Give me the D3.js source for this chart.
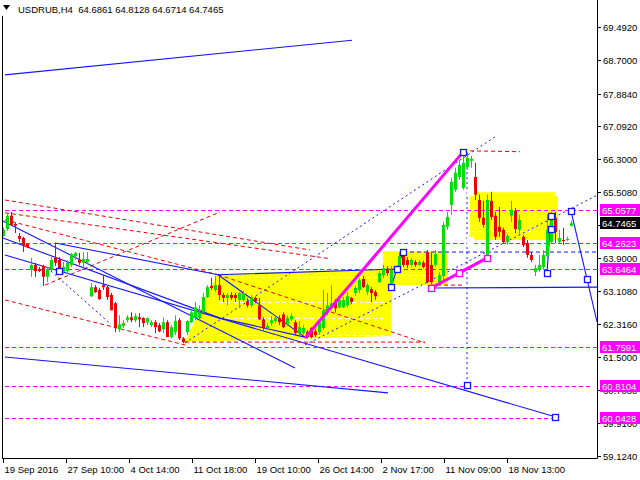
<!DOCTYPE html>
<html><head><meta charset="utf-8">
<script src="https://cdn.jsdelivr.net/npm/d3@7"></script>
<style>body{margin:0;background:#fff;} svg{display:block;font-family:"Liberation Sans",Arial,sans-serif;}</style>
</head><body><svg id="c" width="640" height="480"></svg>
<script>
const title = "USDRUB,H4  64.6861 64.8128 64.6714 64.7465";
const opens  = [64.44,64.61,64.93,64.73,64.44,64.39,64.25,63.62,63.74,63.64,63.71,63.45,63.64,63.91,63.86,63.57,63.59,63.74,63.95,63.86,63.79,63.81,62.98,63.20,63.13,63.25,63.20,63.01,62.81,62.18,62.26,62.40,62.47,62.40,62.47,62.45,62.35,62.28,62.35,62.28,62.18,62.35,61.99,62.11,62.40,61.96,62.11,62.35,62.45,62.45,62.59,62.96,63.23,63.13,63.25,63.01,62.94,63.01,63.01,62.89,62.89,62.86,62.76,62.94,62.76,62.42,62.21,62.33,62.38,62.45,62.54,62.30,62.42,62.35,62.09,62.09,62.11,62.21,62.13,62.11,62.21,62.59,62.69,62.84,62.71,62.71,62.76,62.94,63.06,63.13,63.40,63.08,63.15,63.08,63.32,63.49,63.62,63.20,63.57,63.66,63.98,63.86,63.74,63.81,63.74,63.79,64.05,63.74,63.74,63.32,63.47,64.66,65.19,65.56,65.87,65.60,66.11,66.26,65.87,65.31,64.88,63.98,65.29,64.93,64.66,64.59,64.29,64.93,65.05,64.59,64.42,64.27,63.98,63.57,63.62,63.69,63.95,64.29,64.88,64.29,64.34,64.34,64.6861];
const highs  = [64.64,64.97,65.02,64.76,64.51,64.42,64.27,63.91,63.79,63.69,63.74,63.69,63.93,64.27,63.93,63.81,63.86,64.03,64.05,64.03,64.05,64.05,63.30,63.25,63.18,63.49,63.23,63.06,62.84,62.52,62.40,62.52,62.59,62.57,62.57,62.47,62.47,62.40,62.40,62.33,62.47,62.40,62.28,62.52,62.45,61.99,62.40,62.64,62.84,62.76,63.06,63.25,63.42,63.47,63.47,63.06,63.06,63.08,63.06,63.08,63.11,62.94,63.01,62.98,62.94,62.47,62.33,62.50,62.52,62.52,62.59,62.52,62.57,62.40,62.38,62.28,62.16,62.23,62.18,62.40,63.13,63.06,63.25,62.91,62.98,62.96,63.08,62.96,63.23,63.42,63.47,63.30,63.20,63.13,63.59,63.74,63.71,63.71,63.71,64.05,64.10,63.93,63.91,63.86,63.86,63.84,64.10,64.03,64.10,63.57,64.78,65.02,65.85,66.09,66.28,66.48,66.45,66.38,66.21,65.44,65.29,65.44,65.51,65.02,65.14,64.64,64.49,65.29,65.12,64.95,64.46,64.34,64.05,63.74,63.98,64.10,64.95,65.02,65.02,64.59,64.64,64.42,64.8128];
const lows   = [64.42,64.56,64.69,64.51,64.29,64.05,64.15,63.45,63.45,63.57,63.23,63.32,63.59,63.71,63.57,63.52,63.52,63.69,63.86,63.74,63.62,63.76,62.96,63.06,62.89,63.13,62.89,62.64,62.11,62.11,62.21,62.35,62.35,62.35,62.23,62.23,62.28,62.23,62.09,62.11,62.09,61.99,61.96,62.04,61.92,61.84,62.04,62.33,62.40,62.40,62.57,62.94,63.13,63.08,62.89,62.84,62.76,62.89,62.84,62.69,62.84,62.71,62.71,62.81,62.40,62.16,62.16,62.26,62.33,62.28,62.21,62.26,62.38,62.04,62.04,62.04,61.96,61.96,61.99,62.04,62.16,62.52,62.66,62.59,62.69,62.69,62.71,62.79,62.98,63.06,63.18,63.01,62.84,62.89,63.30,63.42,63.47,63.18,63.54,63.62,63.69,63.66,63.69,63.69,63.71,63.66,63.30,63.28,63.69,63.28,63.37,64.59,64.95,65.51,65.80,65.56,66.04,66.09,65.31,64.78,64.64,63.93,64.83,64.34,64.42,64.27,64.22,64.78,64.51,64.46,64.17,63.91,63.81,63.47,63.57,63.62,63.91,64.27,64.27,64.27,64.22,64.32,64.6714];
const closes = [64.59,64.93,64.71,64.69,64.37,64.20,64.17,63.74,63.59,63.59,63.45,63.64,63.86,63.79,63.66,63.69,63.79,64.00,64.03,63.79,63.88,63.88,63.20,63.08,62.91,63.20,62.96,62.64,62.21,62.30,62.33,62.47,62.40,62.50,62.42,62.33,62.45,62.35,62.23,62.13,62.35,61.99,62.23,62.38,61.96,61.87,62.38,62.59,62.71,62.59,62.96,63.20,63.18,63.25,63.01,62.94,63.01,62.94,62.94,63.06,63.06,62.76,62.94,62.86,62.42,62.21,62.26,62.40,62.45,62.35,62.23,62.45,62.50,62.09,62.23,62.21,61.99,61.99,62.04,62.35,62.64,62.76,62.81,62.69,62.89,62.89,62.98,62.84,63.18,63.37,63.20,63.25,63.06,62.98,63.54,63.66,63.54,63.62,63.66,63.95,63.74,63.74,63.86,63.74,63.81,63.69,63.32,63.32,64.00,63.49,64.71,64.90,65.75,65.97,66.16,66.21,66.33,66.31,65.44,64.88,64.71,65.31,64.90,64.42,64.54,64.29,64.44,65.07,64.61,64.83,64.22,63.98,63.86,63.66,63.74,63.98,64.59,64.95,64.54,64.39,64.32,64.37,64.7465];

const priceTicks = [69.4920,68.7000,67.8840,67.0920,66.3000,65.5080,64.7160,63.9000,63.1080,62.3160,61.5000,60.7080,59.9160,59.1240];
const timeLabels = ["19 Sep 2016","27 Sep 10:00","4 Oct 14:00","11 Oct 18:00","19 Oct 10:00","26 Oct 14:00","2 Nov 17:00","11 Nov 09:00","18 Nov 13:00"];
const timeLabelBars = [0,15.75,31.5,47.25,63,78.75,94.5,110.25,126];

const levelValues = [65.0577,64.2623,63.6464,61.7591,60.8104,60.0428];
const levelFrom   = [0.5,0.5,0.5,0.5,0.5,0.5];
const levelTo     = [148.5,148.5,148.5,148.5,146.75,138];

const yellowZones = [
  [[45.5,61.87],[53.5,63.52],[97.5,63.64],[97,62.02],[74,61.95],[45.5,61.87]],
  [[95,64.07],[111.25,64.07],[111.25,63.25],[95,63.25]],
  [[116.75,65.50],[138.75,65.50],[138.75,64.34],[116.75,64.34]]
];
const whiteDashLevels = [[62.45,54,96],[62.05,54,96],[63.45,54,96],[62.85,54,96],[63.50,96,110],[65.10,117,138],[64.55,117,138]];
const blueSolid = [
  [[0.5,68.34],[87.25,69.18]],
  [[0,64.80],[73,61.24]],
  [[0,64.39],[54.25,62.45],[75.5,61.99]],
  [[0.5,63.98],[138,60.06]],
  [[13,64.27],[53.75,63.50],[98.5,63.64]],
  [[53.75,63.50],[75.5,61.99]],
  [[0.5,61.51],[96.25,60.64]],
  [[97,63.20],[98.5,63.64],[100,64.05]],
  [[106.75,63.18],[148.5,63.20]],
  [[136,63.54],[137,64.92]],
  [[142,65.04],[146,63.40],[148.5,62.36]]
];
const blueDotted = [
  [[45.5,61.85],[123,66.84]],
  [[75.5,61.80],[149,65.45]],
  [[12,63.59],[27,62.30]],
  [[116,66.47],[116,60.83]]
];
const blueDashed = [
  [[100,64.05],[148.5,64.05]]
];
const redDashed = [
  [[0.5,65.31],[76.75,64.10]],
  [[0.5,65.00],[81.75,63.89]],
  [[0.5,64.83],[53.75,63.50]],
  [[10.5,63.25],[54.25,65.02]],
  [[0.5,62.89],[45.5,61.80]],
  [[45.5,61.87],[105.5,61.87]],
  [[116.75,66.50],[129.25,66.48]],
  [[106.75,63.25],[115.5,63.25]],
  [[53.75,63.50],[105.5,61.85]]
];
const magentaSolid = [
  [[75.5,61.97],[115,66.47]],
  [[107,63.18],[114,63.54],[121,63.91]]
];
const blueBoxes = [[14,63.59],[97,63.20],[98.5,63.64],[100,64.05],[136,63.54],[137,64.62],[137,64.92],[142,65.04],[146,63.40],[138,60.06],[116,60.83],[115,66.47]];
const magentaBoxes = [[107,63.18],[114,63.54],[121,63.91]];
const whiteBoxes = [[116.75,65.50],[138.75,65.50],[116.75,64.34]];

const svg = d3.select("#c");
const x = d3.scaleLinear().domain([0,148.5]).range([3,597]);
const y = d3.scaleLinear().domain([59.124,69.492]).range([455.5,27.3]);
const line = d3.line().x(d=>x(d[0])).y(d=>y(d[1]));

const BLUE="#1414ff", MAG="#ff00ff", RED="#ee0000", GREEN="#00e000", YEL="#ffff00";

const plot = svg.append("g");
plot.append("clipPath").attr("id","pc").append("rect").attr("x",2).attr("y",0).attr("width",595).attr("height",458);
const g = plot.append("g").attr("clip-path","url(#pc)");

g.selectAll("path.yz").data(yellowZones).join("path").attr("d",d=>line(d)+"Z").attr("fill",YEL);
g.selectAll("line.wd").data(whiteDashLevels).join("line")
 .attr("x1",d=>x(d[1])).attr("x2",d=>x(d[2])).attr("y1",d=>Math.round(y(d[0]))+0.5).attr("y2",d=>Math.round(y(d[0]))+0.5)
 .attr("stroke","#fff").attr("stroke-dasharray","4,3");
levelValues.forEach((v,k)=>{
  g.append("line").attr("x1",x(levelFrom[k])).attr("x2",x(levelTo[k]))
   .attr("y1",Math.round(y(v))+0.5).attr("y2",Math.round(y(v))+0.5)
   .attr("stroke",MAG).attr("stroke-dasharray","4,3");
});
g.selectAll("path.rd").data(redDashed).join("path").attr("d",line).attr("fill","none").attr("stroke",RED).attr("stroke-dasharray","4,3");
g.selectAll("path.bd").data(blueDotted).join("path").attr("d",line).attr("fill","none").attr("stroke",BLUE).attr("stroke-dasharray","2,3");
g.selectAll("path.bdd").data(blueDashed).join("path").attr("d",line).attr("fill","none").attr("stroke",BLUE).attr("stroke-dasharray","4,3");
g.selectAll("path.bs").data(blueSolid).join("path").attr("d",line).attr("fill","none").attr("stroke",BLUE).attr("stroke-width",1.1);

const n = closes.length;
const cg = g.append("g");
for(let i=0;i<n;i++){
  const cx = Math.round(x(i));
  const up = closes[i] >= opens[i];
  const col = up ? GREEN : RED;
  cg.append("line").attr("x1",cx+0.5).attr("x2",cx+0.5)
    .attr("y1",y(highs[i])).attr("y2",y(lows[i])).attr("stroke",col);
  const t = y(Math.max(opens[i],closes[i])), b = y(Math.min(opens[i],closes[i]));
  cg.append("rect").attr("x",cx-1).attr("width",3).attr("y",t).attr("height",Math.max(1,b-t)).attr("fill",col);
}

g.selectAll("path.ms").data(magentaSolid).join("path").attr("d",line).attr("fill","none").attr("stroke",MAG).attr("stroke-width",3);

function boxes(data,col){
  g.selectAll(null).data(data).join("rect")
   .attr("x",d=>Math.round(x(d[0]))-3+0.5).attr("y",d=>Math.round(y(d[1]))-3+0.5)
   .attr("width",6).attr("height",6).attr("fill","#fff").attr("stroke",col).attr("stroke-width",1.3);
}
boxes(blueBoxes,BLUE); boxes(magentaBoxes,MAG); boxes(whiteBoxes,"#ffffff");

svg.append("line").attr("x1",2.5).attr("x2",2.5).attr("y1",0).attr("y2",458.5).attr("stroke","#000");
svg.append("line").attr("x1",2).attr("x2",597.5).attr("y1",458.5).attr("y2",458.5).attr("stroke","#000");
svg.append("line").attr("x1",597.5).attr("x2",597.5).attr("y1",0).attr("y2",458.5).attr("stroke","#000");

const lastY = Math.round(y(closes[n-1]));
const ra = svg.append("g");
priceTicks.forEach(v=>{
  const yy = Math.round(y(v))+0.5;
  ra.append("line").attr("x1",597).attr("x2",601).attr("y1",yy).attr("y2",yy).attr("stroke","#000");
  if (Math.abs(yy-lastY) > 7)
    ra.append("text").attr("x",603).attr("y",yy+3.5).attr("font-size","9.5px").attr("fill","#000").text(v.toFixed(4));
});
levelValues.forEach(v=>{
  const yy = Math.round(y(v));
  ra.append("rect").attr("x",600).attr("y",yy-6).attr("width",40).attr("height",12).attr("fill",MAG);
  ra.append("text").attr("x",602).attr("y",yy+4).attr("font-size","9.5px").attr("fill","#fff").text(v.toFixed(4));
});
{
  const v = closes[n-1];
  ra.append("rect").attr("x",600).attr("y",lastY-6).attr("width",40).attr("height",12).attr("fill","#000");
  ra.append("text").attr("x",602).attr("y",lastY+4).attr("font-size","9.5px").attr("fill","#fff").text(v.toFixed(4));
}

timeLabels.forEach((t,k)=>{
  const xx = Math.round(x(timeLabelBars[k]))+0.5;
  svg.append("line").attr("x1",xx).attr("x2",xx).attr("y1",458).attr("y2",463).attr("stroke","#000");
  svg.append("text").attr("x",xx+1).attr("y",473).attr("font-size","9.5px").attr("fill","#000").text(t);
});

svg.append("rect").attr("x",0).attr("y",0).attr("width",225).attr("height",16).attr("fill","#fff");
svg.append("path").attr("d","M3,5 L10,5 L6.5,10 Z").attr("fill","#000");
svg.append("text").attr("x",18).attr("y",13).attr("font-size","9.5px").attr("fill","#000").style("white-space","pre").text(title);
</script></body></html>
